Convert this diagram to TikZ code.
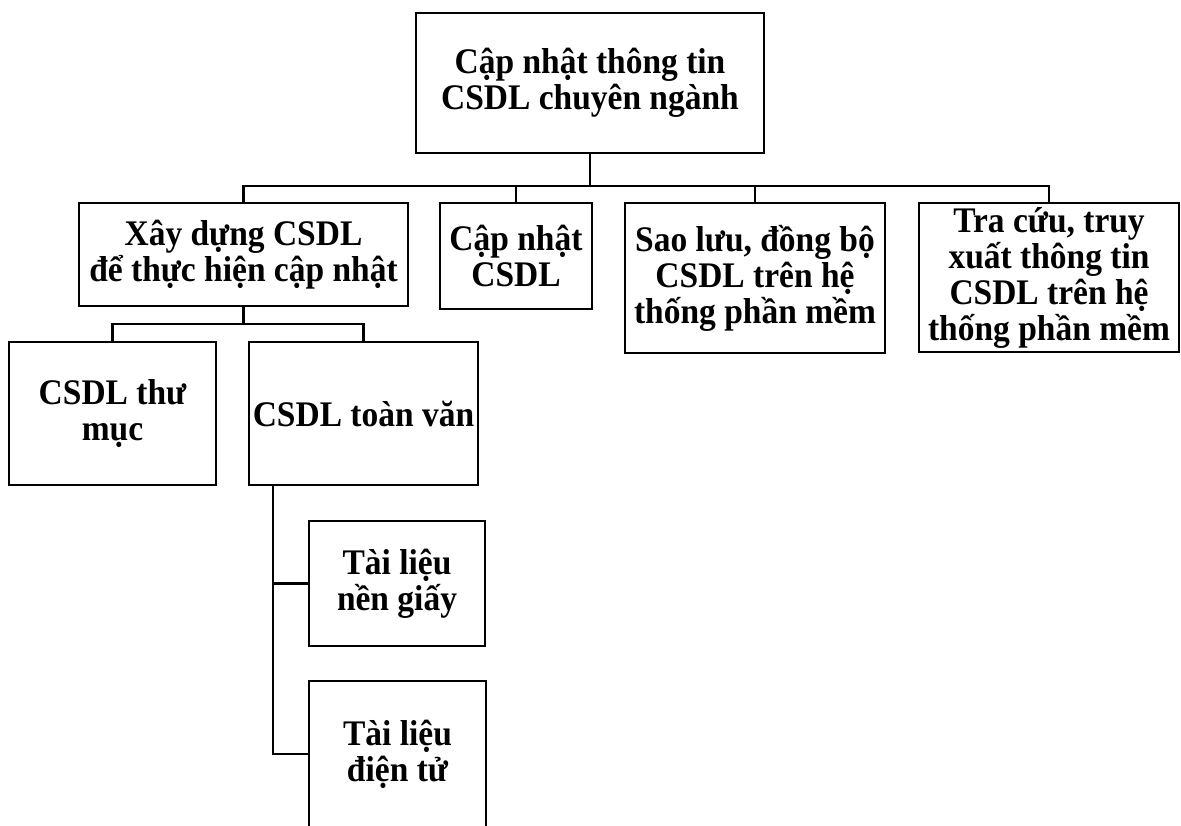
\documentclass[tikz,border=0pt]{standalone}
\usepackage{fontspec}
\setmainfont[FakeStretch=0.93]{Liberation Serif}
\begin{document}
\begin{tikzpicture}[x=1pt,y=-1pt,
  box/.style={draw, line width=1.8pt, inner sep=0pt, align=center,
    font=\bfseries\fontsize{36}{36}\selectfont},
  link/.style={line width=2.8pt}]
\useasboundingbox[fill=white] (0,0) rectangle (1181,826);
\node[box, minimum width=348pt, minimum height=140pt] (top) at (590,83)
  {Cập nhật thông tin\\CSDL chuyên ngành};
\node[box, minimum width=329pt, minimum height=103pt] (b1) at (243.5,254.5)
  {Xây dựng CSDL\\để thực hiện cập nhật};
\node[box, minimum width=152pt, minimum height=106pt] (b2) at (516,256)
  {Cập nhật\\CSDL};
\node[box, minimum width=260pt, minimum height=150pt] (b3) at (755,278)
  {Sao lưu, đồng bộ\\CSDL trên hệ\\thống phần mềm};
\node[box, minimum width=260pt, minimum height=149pt] (b4) at (1049,277.5)
  {Tra cứu, truy\\xuất thông tin\\CSDL trên hệ\\thống phần mềm};
\node[box, minimum width=207pt, minimum height=143pt] (c1) at (112.5,413.5)
  {CSDL thư\\mục};
\node[box, minimum width=229pt, minimum height=143pt] (c2) at (363.5,413.5)
  {CSDL toàn văn};
\node[box, minimum width=176pt, minimum height=125pt] (d1) at (397,583.5)
  {Tài liệu\\nền giấy};
\node[box, minimum width=177pt, minimum height=146pt] (d2) at (397.5,754)
  {Tài liệu\\điện tử};
\coordinate (bar) at (0,186);
\coordinate (bar2) at (0,324);
\coordinate (trunk) at (273,0);
\draw[link] (top.south) -- (top.south |- bar);
\draw[link] (b1.north) -- (b1.north |- bar) -- (b4.north |- bar) -- (b4.north);
\draw[link] (b2.north) -- (b2.north |- bar);
\draw[link] (b3.north) -- (b3.north |- bar);
\draw[link] (b1.south) -- (b1.south |- bar2);
\draw[link] (c1.north) -- (c1.north |- bar2) -- (c2.north |- bar2) -- (c2.north);
\draw[link] (c2.south -| trunk) -- (trunk |- d2.west) -- (d2.west);
\draw[link] (trunk |- d1.west) -- (d1.west);
\end{tikzpicture}
\end{document}
